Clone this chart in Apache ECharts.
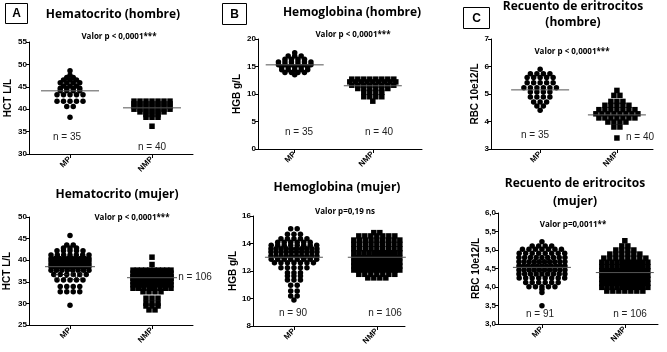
<!DOCTYPE html>
<html>
<head>
<meta charset="utf-8">
<script src="https://cdn.jsdelivr.net/npm/echarts@6/dist/echarts.min.js"></script>
<style>
  html, body { margin: 0; padding: 0; background: #fff; }
  #main { width: 667px; height: 352px; }
</style>
</head>
<body>
<div id="main"></div>
<script>
// valores (cada punto es un paciente)
var categorias = ['MP', 'NMP'];

var hctHombreMP = [48.6, 47.6, 47.1, 47.1, 46.5, 46.5, 46.5, 45.9, 45.9, 45.9, 45.9,
  45.2, 45.2, 45.2, 44.7, 44.7, 44.7, 44.7, 44.1, 44.1, 44.1, 44.1,
  43.2, 43.2, 43.2, 43.2, 43.2, 41.8, 41.8, 41.8, 41.8, 41.8, 40.6, 40.6, 38.2];
var hctHombreNMP = [41.8, 41.8, 41.8, 41.8, 41.8, 41.8, 41.8,
  41.2, 41.2, 41.2, 41.2, 41.2, 41.2, 41.2,
  40.6, 40.6, 40.6, 40.6, 40.6, 40.6, 40.6,
  40.0, 40.0, 40.0, 40.0, 40.0, 40.0, 40.0,
  39.4, 39.4, 39.4, 39.4, 39.4, 38.8, 38.8, 38.8, 38.2, 38.2, 38.2, 36.2];

var hgbHombreMP = [17.5, 16.9, 16.9, 16.9, 16.3, 16.3, 16.3, 16.3,
  15.8, 15.8, 15.8, 15.8, 15.8, 15.8, 15.3, 15.3, 15.3, 15.3, 15.3, 15.3,
  14.9, 14.9, 14.9, 14.9, 14.9, 14.4, 14.4, 14.4, 14.4, 14.4,
  13.9, 13.9, 13.9, 13.9, 13.5];
var hgbHombreNMP = [12.7, 12.7, 12.7, 12.7, 12.7, 12.7, 12.7, 12.7,
  12.2, 12.2, 12.2, 12.2, 12.2, 12.2, 12.2, 12.2, 12.2,
  11.6, 11.6, 11.6, 11.6, 11.6, 11.6, 11.6, 11.6,
  11.0, 11.0, 11.0, 11.0, 11.0, 11.0, 10.3, 10.3, 10.3, 10.3,
  9.5, 9.5, 9.5, 9.5, 8.7];

var rbcHombreMP = [5.9, 5.74, 5.74, 5.74, 5.74, 5.6, 5.6, 5.6, 5.6, 5.6,
  5.41, 5.41, 5.41, 5.41, 5.41, 5.23, 5.23, 5.23, 5.23, 5.23, 5.23,
  5.07, 5.07, 5.07, 5.07, 4.89, 4.89, 4.89, 4.89, 4.71, 4.71, 4.71,
  4.56, 4.56, 4.41];
var rbcHombreNMP = [5.13, 4.95, 4.95, 4.73, 4.73, 4.73, 4.59, 4.59, 4.59, 4.59, 4.59,
  4.43, 4.43, 4.43, 4.43, 4.43, 4.43, 4.43, 4.28, 4.28, 4.28, 4.28, 4.28, 4.28, 4.28, 4.28,
  4.13, 4.13, 4.13, 4.13, 4.13, 4.13, 4.13, 3.98, 3.98, 3.98, 3.98, 3.8, 3.8, 3.4];

var hctMujerMP = [45.7, 43.5, 43.5, 42.8, 42.8, 42.8, 42.2, 42.2, 42.2, 42.2, 42.2,
  41.2, 41.2, 41.2, 41.2, 41.2, 41.2, 41.2,
  40.4, 40.4, 40.4, 40.4, 40.4, 40.4, 40.4, 40.4, 40.4, 40.4,
  39.8, 39.8, 39.8, 39.8, 39.8, 39.8, 39.8, 39.8, 39.8, 39.8, 39.8,
  39.1, 39.1, 39.1, 39.1, 39.1, 39.1, 39.1, 39.1, 39.1, 39.1, 39.1,
  38.5, 38.5, 38.5, 38.5, 38.5, 38.5, 38.5, 38.5, 38.5, 38.5, 38.5, 38.5,
  37.7, 37.7, 37.7, 37.7, 37.7, 37.7, 37.7, 37.7,
  36.7, 36.7, 36.7, 36.7, 36.7, 36.7, 35.4, 35.4, 35.4, 35.4, 35.4,
  33.9, 33.9, 33.9, 33.9, 32.7, 32.7, 32.7, 32.7, 29.6];
var hctMujerNMP = [40.7, 39.0,
  37.7, 37.7, 37.7, 37.7, 37.7, 37.7, 37.7, 37.7, 37.7, 37.7,
  37.0, 37.0, 37.0, 37.0, 37.0, 37.0, 37.0, 37.0, 37.0, 37.0, 37.0, 37.0, 37.0, 37.0, 37.0,
  36.2, 36.2, 36.2, 36.2, 36.2, 36.2, 36.2, 36.2, 36.2, 36.2, 36.2, 36.2, 36.2, 36.2, 36.2,
  35.8, 35.8, 35.8, 35.8, 35.8, 35.8, 35.8, 35.8, 35.8, 35.8, 35.8, 35.8, 35.8, 35.8, 35.8,
  35.0, 35.0, 35.0, 35.0, 35.0, 35.0, 35.0, 35.0, 35.0, 35.0, 35.0, 35.0, 35.0, 35.0,
  34.3, 34.3, 34.3, 34.3, 34.3, 34.3, 34.3, 34.3, 34.3, 34.3, 34.3, 34.3,
  33.5, 33.5, 33.5, 33.5, 33.5, 33.5, 33.5, 33.5,
  32.7, 32.7, 32.7, 32.7, 31.2, 31.2, 31.2, 30.0, 30.0, 30.0, 29.4, 29.4, 29.4, 28.5, 28.5];

var hgbMujerMP = [15.08, 15.08, 14.67, 14.67, 14.67, 14.35, 14.35, 14.35, 14.35, 14.35,
  14.1, 14.1, 14.1, 14.1, 14.1, 14.1,
  13.87, 13.87, 13.87, 13.87, 13.87, 13.87, 13.87, 13.87,
  13.62, 13.62, 13.62, 13.62, 13.62, 13.62, 13.62, 13.62, 13.62, 13.62,
  13.38, 13.38, 13.38, 13.38, 13.38, 13.38, 13.38, 13.38, 13.38, 13.38,
  13.09, 13.09, 13.09, 13.09, 13.09, 13.09, 13.09, 13.09, 13.09, 13.09,
  12.85, 12.85, 12.85, 12.85, 12.85, 12.85, 12.85, 12.85,
  12.6, 12.6, 12.6, 12.6, 12.6, 12.6, 12.6, 12.24, 12.24, 12.24, 12.24, 12.24,
  11.88, 11.88, 11.88, 11.64, 11.64, 11.64, 11.35, 11.35, 11.35,
  10.96, 10.96, 10.55, 10.55, 10.18, 10.18, 9.9];
var hgbMujerNMP = [14.79, 14.79, 14.55, 14.55, 14.55, 14.55, 14.55, 14.55, 14.55,
  14.25, 14.25, 14.25, 14.25, 14.25, 14.25, 14.25, 14.25, 14.25,
  13.94, 13.94, 13.94, 13.94, 13.94, 13.94, 13.94, 13.94, 13.94,
  13.62, 13.62, 13.62, 13.62, 13.62, 13.62, 13.62, 13.62, 13.62,
  13.33, 13.33, 13.33, 13.33, 13.33, 13.33, 13.33, 13.33, 13.33, 13.33,
  12.97, 12.97, 12.97, 12.97, 12.97, 12.97, 12.97, 12.97, 12.97, 12.97, 12.97, 12.97,
  12.65, 12.65, 12.65, 12.65, 12.65, 12.65, 12.65, 12.65, 12.65, 12.65, 12.65, 12.65, 12.65,
  12.36, 12.36, 12.36, 12.36, 12.36, 12.36, 12.36, 12.36, 12.36, 12.36, 12.36, 12.36, 12.36,
  12.07, 12.07, 12.07, 12.07, 12.07, 12.07, 12.07, 12.07, 12.07, 12.07, 12.07,
  11.76, 11.76, 11.76, 11.76, 11.76, 11.76, 11.76, 11.5, 11.5, 11.5, 11.5];

var rbcMujerMP = [5.22, 5.11, 5.11, 5.11, 5.11, 5.02, 5.02, 5.02, 5.02, 5.02, 5.02, 5.02,
  4.91, 4.91, 4.91, 4.91, 4.91, 4.91, 4.91, 4.91,
  4.8, 4.8, 4.8, 4.8, 4.8, 4.8, 4.8, 4.8, 4.8,
  4.68, 4.68, 4.68, 4.68, 4.68, 4.68, 4.68, 4.68, 4.68, 4.68,
  4.57, 4.57, 4.57, 4.57, 4.57, 4.57, 4.57, 4.57, 4.57, 4.57, 4.57,
  4.46, 4.46, 4.46, 4.46, 4.46, 4.46, 4.46, 4.46, 4.46, 4.46,
  4.35, 4.35, 4.35, 4.35, 4.35, 4.35, 4.35, 4.35, 4.35,
  4.24, 4.24, 4.24, 4.24, 4.24, 4.24, 4.24, 4.24,
  4.12, 4.12, 4.12, 4.12, 4.12, 4.12, 4.01, 4.01, 4.01, 4.01, 4.01, 3.94, 3.85, 3.49];
var rbcMujerNMP = [5.25, 5.11, 5.11, 5.0, 5.0, 5.0, 5.0, 4.89, 4.89, 4.89, 4.89, 4.89, 4.89,
  4.78, 4.78, 4.78, 4.78, 4.78, 4.78, 4.78, 4.78,
  4.67, 4.67, 4.67, 4.67, 4.67, 4.67, 4.67, 4.67, 4.67, 4.67,
  4.55, 4.55, 4.55, 4.55, 4.55, 4.55, 4.55, 4.55, 4.55, 4.55,
  4.44, 4.44, 4.44, 4.44, 4.44, 4.44, 4.44, 4.44, 4.44, 4.44, 4.44, 4.44,
  4.32, 4.32, 4.32, 4.32, 4.32, 4.32, 4.32, 4.32, 4.32, 4.32, 4.32, 4.32,
  4.21, 4.21, 4.21, 4.21, 4.21, 4.21, 4.21, 4.21, 4.21, 4.21, 4.21, 4.21,
  4.1, 4.1, 4.1, 4.1, 4.1, 4.1, 4.1, 4.1, 4.1, 4.1, 4.1, 4.1,
  3.99, 3.99, 3.99, 3.99, 3.99, 3.99, 3.99, 3.99, 3.99, 3.99,
  3.89, 3.89, 3.89, 3.89, 3.89, 3.89, 3.89];

// medias (linea horizontal)
var mediaMP = [44.1, 15.3, 5.15, 38.5, 13.0, 4.53];
var mediaNMP = [40.3, 11.5, 4.24, 35.95, 13.0, 4.39];

var titulos = ['Hematocrito (hombre)', 'Hemoglobina (hombre)', 'Recuento de eritrocitos\n(hombre)',
  'Hematocrito (mujer)', 'Hemoglobina (mujer)', 'Recuento de eritrocitos\n(mujer)'];
var valoresP = ['Valor p < 0,0001***', 'Valor p < 0,0001***', 'Valor p < 0,0001***',
  'Valor p < 0,0001***', 'Valor p=0,19 ns', 'Valor p=0,0011**'];
var nMP = ['n = 35', 'n = 35', 'n = 35', 'n = 90', 'n = 90', 'n = 91'];
var nNMP = ['n = 40', 'n = 40', 'n = 40', 'n = 106', 'n = 106', 'n = 106'];
var nombresY = ['HCT L/L', 'HGB g/L', 'RBC 10e12/L', 'HCT L/L', 'HGB g/L', 'RBC 10e12/L'];
var letras = ['A', 'B', 'C'];

var datosMP = [hctHombreMP, hgbHombreMP, rbcHombreMP, hctMujerMP, hgbMujerMP, rbcMujerMP];
var datosNMP = [hctHombreNMP, hgbHombreNMP, rbcHombreNMP, hctMujerNMP, hgbMujerNMP, rbcMujerNMP];

// posicion de cada panel
var paneles = [
  {left: 29, top: 42, width: 164, height: 112, xMin: 0.5, xMax: 2.5, yMin: 30, yMax: 55, yStep: 5, gap: 16, dec: 0, ancho: 46, media: 29,
   titulo: [113, 15], titH: 18, p: [119, 37], n1: [67, 137], n2: [152, 147]},
  {left: 258, top: 39, width: 164, height: 110, xMin: 0.53, xMax: 2.63, yMin: 0, yMax: 20, yStep: 5, gap: 16, dec: 0, ancho: 46, media: 29,
   titulo: [352, 13], titH: 18, p: [353, 35], n1: [299, 132], n2: [379, 132]},
  {left: 491, top: 39, width: 162, height: 110, xMin: 0.36, xMax: 2.47, yMin: 3, yMax: 7, yStep: 1, gap: 11, dec: 0, ancho: 46, media: 29,
   titulo: [573, 15], titH: 16, p: [572, 52], n1: [535, 135], n2: [640, 137]},
  {left: 29, top: 217, width: 164, height: 108, xMin: 0.5, xMax: 2.5, yMin: 25, yMax: 50, yStep: 5, gap: 17, dec: 0, ancho: 38, media: 25,
   titulo: [117, 195], titH: 18, p: [132, 218], n1: [68, 277], n2: [195, 277]},
  {left: 253, top: 216, width: 152, height: 110, xMin: 0.506, xMax: 2.34, yMin: 8, yMax: 16, yStep: 2, gap: 15, dec: 0, ancho: 46, media: 29,
   titulo: [337, 188], titH: 18, p: [345, 212], n1: [293, 313], n2: [385, 313]},
  {left: 498, top: 213, width: 160, height: 111, xMin: 0.47, xMax: 2.4, yMin: 3, yMax: 6, yStep: 0.5, gap: 15, dec: 1, ancho: 46, media: 29,
   titulo: [575, 193], titH: 18, p: [573, 225], n1: [540, 314], n2: [630, 314]}
];
var cajas = [[5, 3, 22, 20], [222, 3, 24, 21], [463, 7, 26, 21]];

// reparte los puntos de igual valor en una fila centrada (como GraphPad)
function enjambre(valores, centro, pxPorUnidad, paso, anchoMax) {
  var filas = {};
  var orden = [];
  valores.forEach(function (v) {
    if (!filas[v]) { filas[v] = 0; orden.push(v); }
    filas[v]++;
  });
  var puntos = [];
  orden.forEach(function (v) {
    var k = filas[v];
    var s = k > 1 ? Math.min(paso, anchoMax / (k - 1)) : 0;
    for (var i = 0; i < k; i++) {
      puntos.push([centro + (i - (k - 1) / 2) * s / pxPorUnidad, v]);
    }
  });
  return puntos;
}

var fuente = "'Liberation Sans', Arial, sans-serif";
var grid = [], xAxis = [], yAxis = [], series = [], graphic = [];

paneles.forEach(function (p, i) {
  var pxU = p.width / (p.xMax - p.xMin);
  var medio = p.media / pxU;
  grid.push({left: p.left, top: p.top, width: p.width, height: p.height});
  xAxis.push({
    type: 'value', gridIndex: i, min: p.xMin, max: p.xMax,
    axisLine: {show: true, onZero: false, lineStyle: {color: '#000', width: 1}},
    axisTick: {show: true, customValues: [1, 2], length: 4, lineStyle: {color: '#000'}},
    axisLabel: {show: true, customValues: [1, 2], rotate: 45, margin: 4, color: '#000',
      fontSize: 8, fontWeight: 'bold', fontFamily: fuente,
      formatter: function (v) { return categorias[Math.round(v) - 1] || ''; }},
    splitLine: {show: false}
  });
  yAxis.push({
    type: 'value', gridIndex: i, min: p.yMin, max: p.yMax, interval: p.yStep,
    name: nombresY[i], nameLocation: 'middle', nameGap: p.gap,
    nameTextStyle: {fontSize: 10, fontWeight: 'bold', fontFamily: fuente, color: '#000'},
    axisLine: {show: true, onZero: false, lineStyle: {color: '#000', width: 1}},
    axisTick: {show: true, length: 3, lineStyle: {color: '#000'}},
    axisLabel: {margin: 2, color: '#000', fontSize: 8, fontWeight: 'bold', fontFamily: fuente,
      formatter: function (v) { return p.dec ? v.toFixed(p.dec).replace('.', ',') : String(v); }},
    splitLine: {show: false}
  });
  series.push({
    type: 'scatter', xAxisIndex: i, yAxisIndex: i, symbol: 'circle', symbolSize: 5.5,
    itemStyle: {color: '#000', opacity: 1}, silent: true,
    data: enjambre(datosMP[i], 1, pxU, 6.5, p.ancho)
  });
  series.push({
    type: 'scatter', xAxisIndex: i, yAxisIndex: i, symbol: 'rect', symbolSize: 5.5,
    itemStyle: {color: '#000', opacity: 1}, silent: true,
    data: enjambre(datosNMP[i], 2, pxU, 6, p.ancho)
  });
  [[1, mediaMP[i]], [2, mediaNMP[i]]].forEach(function (m) {
    series.push({
      type: 'line', xAxisIndex: i, yAxisIndex: i, symbol: 'none', silent: true, z: 5,
      lineStyle: {color: '#555', width: 1},
      data: [[m[0] - medio, m[1]], [m[0] + medio, m[1]]]
    });
  });
  graphic.push({type: 'text', x: p.titulo[0], y: p.titulo[1], zlevel: 1, style: {
    text: titulos[i], font: "bold 12px 'Open Sans'", fill: '#000', lineHeight: p.titH,
    textAlign: 'center', textVerticalAlign: 'middle'}});
  graphic.push({type: 'text', x: p.p[0], y: p.p[1], zlevel: 1, style: {
    text: valoresP[i], font: "bold 8px 'Open Sans'", fill: '#000',
    textAlign: 'center', textVerticalAlign: 'middle'}});
  graphic.push({type: 'text', x: p.n1[0], y: p.n1[1], zlevel: 1, style: {
    text: nMP[i], font: "10px " + fuente, fill: '#222',
    textAlign: 'center', textVerticalAlign: 'middle'}});
  graphic.push({type: 'text', x: p.n2[0], y: p.n2[1], zlevel: 1, style: {
    text: nNMP[i], font: "10px " + fuente, fill: '#222',
    textAlign: 'center', textVerticalAlign: 'middle'}});
});

cajas.forEach(function (c, i) {
  graphic.push({type: 'rect', zlevel: 1, shape: {x: c[0] + 0.5, y: c[1] + 0.5, width: c[2], height: c[3]},
    style: {fill: '#fff', stroke: '#000', lineWidth: 1}});
  graphic.push({type: 'text', zlevel: 1, z: 10, x: c[0] + c[2] / 2 + 0.5, y: c[1] + c[3] / 2 + 1, style: {
    text: letras[i], font: "bold 12px " + fuente, fill: '#000',
    textAlign: 'center', textVerticalAlign: 'middle'}});
});

var myChart = echarts.init(document.getElementById('main'));
myChart.setOption({
  animation: false,
  grid: grid,
  xAxis: xAxis,
  yAxis: yAxis,
  series: series,
  graphic: graphic
});
</script>
</body>
</html>
